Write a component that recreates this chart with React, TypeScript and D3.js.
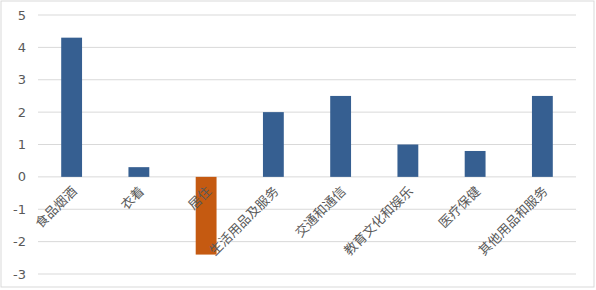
import React from "react";
import * as d3 from "d3";

const categories = ["食品烟酒", "衣着", "居住", "生活用品及服务", "交通和通信", "教育文化和娱乐", "医疗保健", "其他用品和服务"];
const values = [4.3, 0.3, -2.4, 2.0, 2.5, 1.0, 0.8, 2.5];
const yTicks = [-3, -2, -1, 0, 1, 2, 3, 4, 5];

const W = 596;
const H = 290;
const left = 38;
const right = 576;
const top = 15;
const bottom = 274;

export default function App() {
  const x = d3.scaleBand<string>().domain(categories).range([left, right]).paddingInner(0.69).paddingOuter(0.345);
  const y = d3.scaleLinear().domain([-3, 5]).range([bottom, top]);
  const font = "'Noto Sans CJK SC', 'DejaVu Sans', sans-serif";
  return (
    <svg width={W} height={H} style={{ position: "absolute", left: 0, top: 0, background: "#fff" }}>
      <rect x={1} y={1} width={593} height={286} fill="#fff" stroke="#d9d9d9" strokeWidth={1} />
      {yTicks.map((t) => (
        <g key={t}>
          <line x1={left} x2={right} y1={y(t)} y2={y(t)} stroke="#d9d9d9" strokeWidth={1} />
          <text x={26} y={y(t)} dy="0.35em" textAnchor="end" fontSize={13} fill="#595959" fontFamily="'DejaVu Sans', sans-serif">
            {t}
          </text>
        </g>
      ))}
      {categories.map((c, i) => {
        const v = values[i];
        return (
          <rect
            key={c}
            x={x(c)}
            width={x.bandwidth()}
            y={y(Math.max(0, v))}
            height={Math.abs(y(v) - y(0))}
            fill={v < 0 ? "#c55a11" : "#365f91"}
          />
        );
      })}
      {categories.map((c) => {
        const cx = (x(c) as number) + x.bandwidth() / 2 + 6;
        const cy = 192;
        return (
          <text
            key={"l" + c}
            x={cx}
            y={cy}
            textAnchor="end"
            fontSize={13}
            fill="#595959"
            fontFamily={font}
            transform={`rotate(-45 ${cx} ${cy})`}
          >
            {c}
          </text>
        );
      })}
    </svg>
  );
}
